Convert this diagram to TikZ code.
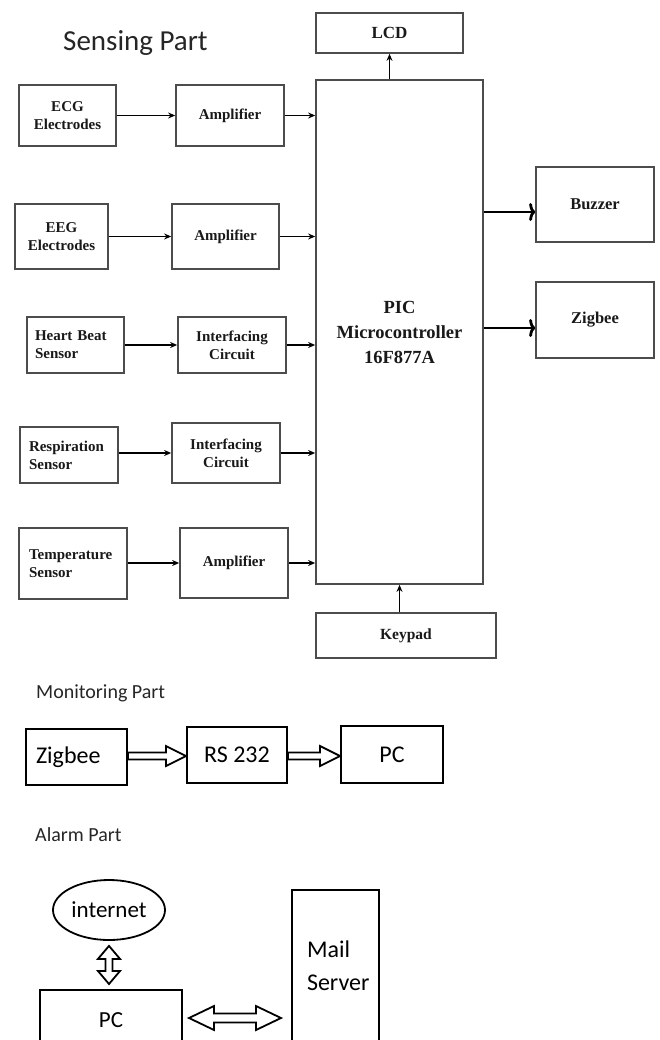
\documentclass[tikz,border=0pt]{standalone}
\usepackage{fontspec}
\setmainfont{Liberation Serif}
\newfontfamily\calfont{Carlito}
\usetikzlibrary{arrows.meta,calc,shapes.geometric}

\newcommand\hollowsingle[5]{%
  \draw[hollow] ($(#1)+(0,#3)$) -- ($(#2)+(-#5,#3)$) -- ($(#2)+(-#5,#4)$) -- (#2)
    -- ($(#2)+(-#5,-#4)$) -- ($(#2)+(-#5,-#3)$) -- ($(#1)+(0,-#3)$) -- cycle;}
\newcommand\hollowdoubleh[5]{%
  \draw[hollow] (#1) -- ($(#1)+(#5,#4)$) -- ($(#1)+(#5,#3)$) -- ($(#2)+(-#5,#3)$)
    -- ($(#2)+(-#5,#4)$) -- (#2) -- ($(#2)+(-#5,-#4)$) -- ($(#2)+(-#5,-#3)$)
    -- ($(#1)+(#5,-#3)$) -- ($(#1)+(#5,-#4)$) -- cycle;}
\newcommand\hollowdoublev[5]{%
  \draw[hollow] (#1) -- ($(#1)+(#4,#5)$) -- ($(#1)+(#3,#5)$) -- ($(#2)+(#3,-#5)$)
    -- ($(#2)+(#4,-#5)$) -- (#2) -- ($(#2)+(-#4,-#5)$) -- ($(#2)+(-#3,-#5)$)
    -- ($(#1)+(-#3,#5)$) -- ($(#1)+(-#4,#5)$) -- cycle;}

\tikzset{
  sbox/.style={draw=black!70, line width=1.7pt, fill=white, inner sep=2pt,
    font=\bfseries\fontsize{15}{18}\selectfont, text=black!90, align=center},
  lbox/.style={sbox, align=left},
  sarrow/.style={draw=black, line width=1.6pt, -{Stealth[length=7pt,width=6pt]}},
  barrow/.style={draw=black, line width=2.8pt, -{To[length=6pt,width=18pt]}},
  mbox/.style={draw=black, line width=2pt, fill=white,
    font=\calfont\fontsize{24}{33}\selectfont},
  hollow/.style={draw=black, line width=1.8pt, fill=white, line join=miter},
  parttitle/.style={anchor=west, inner sep=0pt, text=black!85}
}

\begin{document}
\begin{tikzpicture}[x=1pt,y=-1pt]
\useasboundingbox (0,0) rectangle (660,1040);

% ---------- Sensing part ----------
\node[parttitle, font=\calfont\fontsize{29}{34}\selectfont] (tsense) at (63,43) {Sensing Part};

\node[sbox, minimum width=147, minimum height=40, font=\bfseries\fontsize{17}{20}\selectfont] (lcd) at (389.5,33) {LCD};
\node[sbox, minimum width=167, minimum height=504, font=\bfseries\fontsize{18.5}{25}\selectfont] (mcu) at (399.5,332) {PIC\\Microcontroller\\16F877A};
\node[sbox, minimum width=180, minimum height=45, font=\bfseries\fontsize{15.5}{18}\selectfont] (key) at (406,635.5) {Keypad};

\node[sbox, minimum width=97, minimum height=61] (ecg) at (67.5,115.5) {ECG\\Electrodes};
\node[sbox, minimum width=108, minimum height=61] (amp1) at (230,115.5) {Amplifier};
\node[sbox, minimum width=93, minimum height=65] (eeg) at (61.5,236.5) {EEG\\Electrodes};
\node[sbox, minimum width=107, minimum height=65] (amp2) at (225.5,236.5) {Amplifier};
\node[lbox, minimum width=97, minimum height=56, inner xsep=8pt, text width=81pt] (hb) at (75.5,345) {Heart Beat\\Sensor};
\node[sbox, minimum width=108, minimum height=56] (ic1) at (232,345) {Interfacing\\Circuit};
\node[lbox, minimum width=98, minimum height=56, inner xsep=9pt, text width=80pt] (resp) at (69,455) {Respiration\\Sensor};
\node[sbox, minimum width=108, minimum height=60] (ic2) at (226,453) {Interfacing\\Circuit};
\node[lbox, minimum width=108, minimum height=71, inner xsep=10pt, text width=88pt] (temp) at (73,563.5) {Temperature\\Sensor};
\node[sbox, minimum width=108, minimum height=70] (amp3) at (234,563) {Amplifier};

\node[sbox, minimum width=118, minimum height=75, font=\bfseries\fontsize{16.5}{19}\selectfont] (buz) at (595,204.5) {Buzzer};
\node[sbox, minimum width=118, minimum height=76, font=\bfseries\fontsize{16.5}{19}\selectfont] (zig) at (595,320) {Zigbee};

\draw[sarrow] (ecg.east) -- (ecg.east -| amp1.west);
\draw[sarrow] (amp1.east) -- (amp1.east -| mcu.west);
\draw[sarrow] (eeg.east) -- (eeg.east -| amp2.west);
\draw[sarrow] (amp2.east) -- (amp2.east -| mcu.west);
\draw[sarrow] (hb.east) -- (hb.east -| ic1.west);
\draw[sarrow] (ic1.east) -- (ic1.east -| mcu.west);
\draw[sarrow] (ic2.west -| resp.east) -- (ic2.west);
\draw[sarrow] (ic2.east) -- (ic2.east -| mcu.west);
\draw[sarrow] (amp3.west -| temp.east) -- (amp3.west);
\draw[sarrow] (amp3.east) -- (amp3.east -| mcu.west);
\draw[sarrow] (mcu.north -| lcd.south) -- (lcd.south);
\draw[sarrow] (key.north -| mcu.south) -- (mcu.south);

\coordinate (bzin) at ($(buz.west)+(0,7.5)$);
\coordinate (zgin) at ($(zig.west)+(0,8)$);
\draw[barrow] (mcu.east |- bzin) -- (bzin);
\draw[barrow] (mcu.east |- zgin) -- (zgin);

% ---------- Monitoring part ----------
\node[parttitle, font=\calfont\fontsize{20}{24}\selectfont] (tmon) at (36,693) {Monitoring Part};
\node[mbox, minimum width=101, minimum height=56, align=left, inner xsep=10pt, text width=81pt] (mzig) at (76.5,757) {Zigbee};
\node[mbox, minimum width=100, minimum height=56] (mrs) at (237,755) {RS 232};
\node[mbox, minimum width=102, minimum height=57] (mpc) at (392,754.5) {PC};

\coordinate (a1s) at (mzig.east |- 0,756);
\coordinate (a1e) at (mrs.west |- 0,756);
\coordinate (a2s) at (mrs.east |- 0,756);
\coordinate (a2e) at (mpc.west |- 0,756);
\hollowsingle{a1s}{a1e}{3.5}{10}{20}
\hollowsingle{a2s}{a2e}{3.5}{10}{20}

% ---------- Alarm part ----------
\node[parttitle, font=\calfont\fontsize{20}{24}\selectfont] (talarm) at (35,835) {Alarm Part};
\node[draw=black, line width=1.8pt, ellipse, minimum width=112, minimum height=60, inner sep=0pt,
  font=\calfont\fontsize{23}{28}\selectfont] (inet) at (109,910) {internet};
\node[mbox, minimum width=142, minimum height=60, font=\calfont\fontsize{23}{28}\selectfont] (apc) at (111,1020) {PC};
\node[mbox, minimum width=87, minimum height=152, align=left, inner xsep=15pt, text width=57pt] (mail) at (335.5,966) {Mail\\Server};

\coordinate (v1) at ($(inet.south)+(0,5)$);
\coordinate (v2) at ($(apc.north)+(-2,-5)$);
\coordinate (v1x) at (v2 |- v1);
\hollowdoublev{v1x}{v2}{3.5}{11}{13}
\coordinate (h1) at ($(apc.east |- 0,1018)+(6,0)$);
\coordinate (h2) at ($(mail.west |- 0,1018)+(-10,0)$);
\hollowdoubleh{h1}{h2}{4.5}{12}{25}
\end{tikzpicture}
\end{document}
